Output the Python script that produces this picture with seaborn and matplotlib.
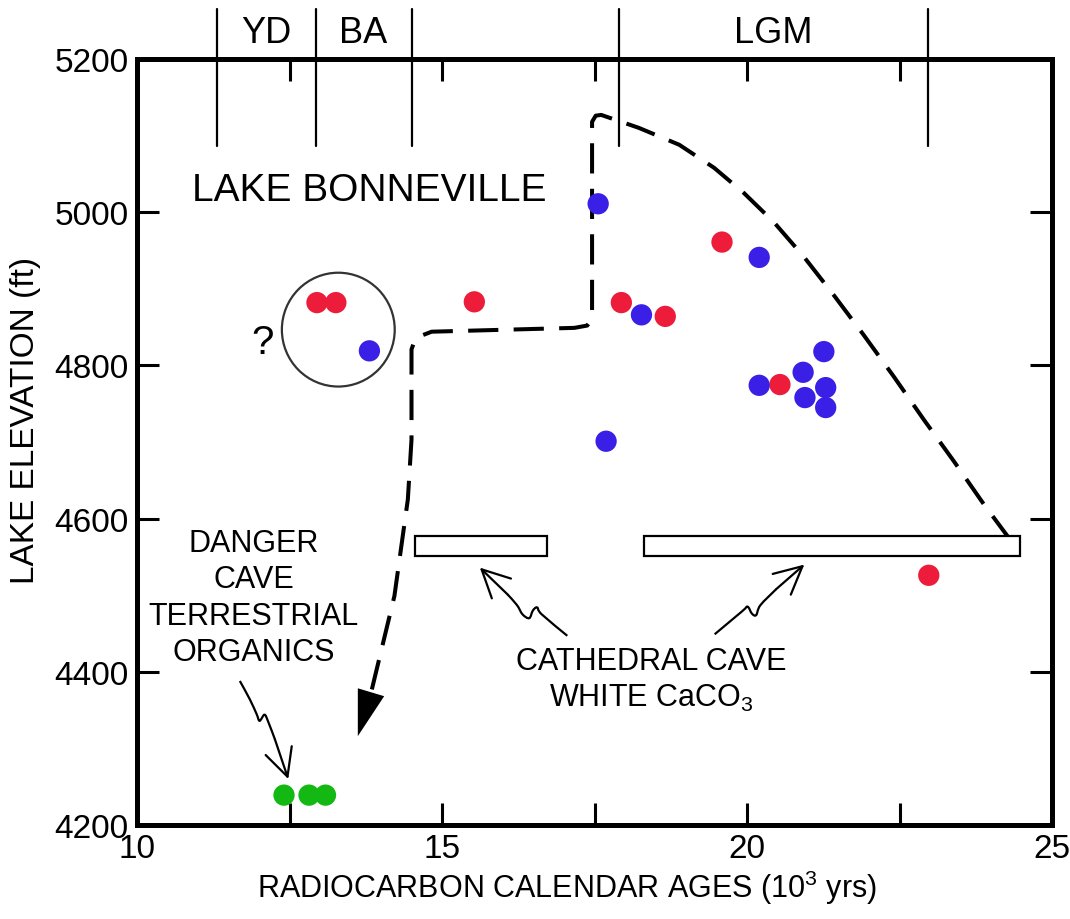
import numpy as np
import pandas as pd
import matplotlib
matplotlib.use("Agg")
import matplotlib.pyplot as plt
from matplotlib.patches import Ellipse, Rectangle, PathPatch
from matplotlib.path import Path
import seaborn as sns

# ---- data -------------------------------------------------------------
red_age = [12.95, 13.26, 15.53, 17.94, 18.66, 19.59, 20.54, 22.98]
red_elev = [4882, 4882, 4883, 4882, 4864, 4961, 4775, 4526]

blue_age = [13.81, 17.56, 18.27, 20.20, 17.69, 21.26, 20.92, 20.20, 21.29, 20.95, 21.29]
blue_elev = [4819, 5011, 4866, 4941, 4701, 4818, 4791, 4774, 4771, 4758, 4745]

green_age = [12.41, 12.82, 13.09]
green_elev = [4239, 4239, 4239]

# lake-level envelope (dashed), from the late end to the early highstand
lake_age = [13.85, 14.22, 14.44, 14.50, 14.50, 14.57, 14.83, 17.17, 17.38, 17.46,
            17.46, 17.52, 17.61, 18.23, 18.89, 19.46, 19.95, 20.44, 20.93, 21.42,
            21.91, 22.41, 22.90, 23.39, 23.88, 24.29]
lake_elev = [4377, 4499, 4625, 4703, 4821, 4836, 4844, 4849, 4852, 4860,
             5118, 5126, 5127, 5110, 5088, 5058, 5025, 4987, 4942, 4892,
             4840, 4785, 4729, 4675, 4619, 4575]
lake_arrow_tip = (13.62, 4316)

# Cathedral Cave white CaCO3 age ranges
cave_ranges = [(14.55, 16.72), (18.31, 24.47)]
cave_elev_range = (4551, 4577)

# climate periods
period_bounds = [11.31, 12.93, 14.50, 17.905, 22.96]
period_names = ["YD", "BA", "LGM"]
period_spans = [(11.31, 12.93), (12.93, 14.50), (17.905, 22.96)]

x_ticks = [10, 12.5, 15, 17.5, 20, 22.5, 25]
x_ticklabels = ["10", "", "15", "", "20", "", "25"]
y_ticks = [4200, 4400, 4600, 4800, 5000, 5200]

df = pd.DataFrame({
    "age": red_age + blue_age + green_age,
    "elev": red_elev + blue_elev + green_elev,
    "group": ["red"] * len(red_age) + ["blue"] * len(blue_age) + ["green"] * len(green_age),
})
palette = {"red": "#ED1C3A", "blue": "#3A1FE6", "green": "#13B813"}


def smooth_path(xs, ys):
    """Cubic Bezier path through the given vertices (Catmull-Rom tangents)."""
    p = np.column_stack([xs, ys]).astype(float)
    n = len(p)
    verts = [p[0]]
    codes = [Path.MOVETO]
    for i in range(n - 1):
        p_prev = p[i - 1] if i > 0 else p[i]
        p_next2 = p[i + 2] if i + 2 < n else p[i + 1]
        c1 = p[i] + (p[i + 1] - p_prev) / 6.0
        c2 = p[i + 1] - (p_next2 - p[i]) / 6.0
        verts += [c1, c2, p[i + 1]]
        codes += [Path.CURVE4] * 3
    return Path(np.array(verts), codes)


# ---- style ------------------------------------------------------------
sns.set_theme(style="white")
plt.rcParams["font.family"] = ["Liberation Sans", "DejaVu Sans"]
plt.rcParams["mathtext.fontset"] = "custom"
plt.rcParams["mathtext.rm"] = "Liberation Sans"
plt.rcParams["mathtext.it"] = "Liberation Sans"
plt.rcParams["mathtext.default"] = "regular"
plt.rcParams["text.color"] = "black"
plt.rcParams["axes.labelcolor"] = "black"

fig = plt.figure(figsize=(10.7, 9.2), dpi=100)
ax = fig.add_axes([137 / 1070, 94 / 920, 915 / 1070, 766 / 920])

sns.scatterplot(data=df, x="age", y="elev", hue="group", palette=palette,
                s=235, linewidth=0, legend=False, ax=ax, zorder=3)

ax.set_xlim(10, 25)
ax.set_ylim(4200, 5200)

# ---- envelope line with arrow -------------------------------------------
ax.plot(lake_age, lake_elev, color="black", lw=2.9,
        linestyle=(0, (7.5, 3.8)), dash_capstyle="butt",
        dash_joinstyle="round", zorder=2)
ax.annotate("", xy=lake_arrow_tip, xytext=(lake_age[0], lake_elev[0]),
            arrowprops=dict(arrowstyle="-|>,head_length=1.5,head_width=0.45",
                            mutation_scale=22, color="black", lw=0,
                            shrinkA=0, shrinkB=0), zorder=2)

# ---- CaCO3 boxes -----------------------------------------------------
for x0, x1 in cave_ranges:
    ax.add_patch(Rectangle((x0, cave_elev_range[0]), x1 - x0,
                           cave_elev_range[1] - cave_elev_range[0],
                           facecolor="white", edgecolor="black", lw=1.6, zorder=2.5))

# ---- uncertain cluster circle --------------------------------------------
ax.add_patch(Ellipse((13.30, 4846.7), 1.85, 148.6, facecolor="none",
                     edgecolor="#333333", lw=1.6, zorder=2))
ax.text(12.05, 4831, "?", fontsize=29, ha="center", va="center")

# ---- squiggly pointer arrows ---------------------------------------------
squiggles = [
    [(17.054, 4447), (16.635, 4475), (16.56, 4484), (16.49, 4480), (16.43, 4470),
     (16.32, 4475), (16.23, 4487), (16.075, 4501), (15.62, 4536)],
    [(19.47, 4449), (19.92, 4479), (20.01, 4485), (20.08, 4476), (20.15, 4474),
     (20.22, 4487), (20.48, 4508), (20.94, 4540)],
    [(11.686, 4388), (11.85, 4364), (11.96, 4345), (12.01, 4336), (12.09, 4344),
     (12.15, 4335), (12.26, 4312), (12.48, 4260)],
]
for pts in squiggles:
    xs, ys = zip(*pts)
    ax.add_patch(PathPatch(smooth_path(xs[:-1], ys[:-1]), facecolor="none",
                           edgecolor="black", lw=1.6, zorder=2))
    ax.annotate("", xy=pts[-1], xytext=pts[-2],
                arrowprops=dict(arrowstyle="->,head_length=1.1,head_width=0.55",
                                mutation_scale=18, color="black", lw=1.6,
                                shrinkA=0, shrinkB=0))

# ---- text annotations --------------------------------------------------
ax.text(10.90, 5029, "LAKE BONNEVILLE", fontsize=28, ha="left", va="center")
ax.text(11.91, 4497, "DANGER\nCAVE\nTERRESTRIAL\nORGANICS", fontsize=22,
        ha="center", va="center", multialignment="center", linespacing=1.28)
ax.text(18.43, 4414, "CATHEDRAL CAVE", fontsize=22, ha="center", va="center")
ax.text(18.43, 4366, "WHITE CaCO$_3$", fontsize=22, ha="center", va="center")

# ---- climate periods above the frame -------------------------------------
trans = ax.get_xaxis_transform()
for xb in period_bounds:
    ax.plot([xb, xb], [0.886, 1.065], transform=trans, color="black",
            lw=1.6, clip_on=False, zorder=4)
for name, (a, b) in zip(period_names, period_spans):
    ax.text((a + b) / 2, 1.035, name, transform=trans, fontsize=26,
            ha="center", va="center")

# ---- axes, ticks, labels ------------------------------------------------
ax.set_xticks(x_ticks)
ax.set_xticklabels(x_ticklabels)
ax.set_yticks(y_ticks)
ax.set_yticklabels([str(v) for v in y_ticks])
ax.tick_params(axis="both", which="major", direction="in", length=16, width=2.2,
               labelsize=24, pad=6, color="black", labelcolor="black",
               top=True, right=True, bottom=True, left=True)
for sp in ax.spines.values():
    sp.set_linewidth(3.6)
    sp.set_color("black")
    sp.set_visible(True)

ax.set_xlabel("RADIOCARBON CALENDAR AGES (10$^3$ yrs)", fontsize=22)
ax.set_ylabel("LAKE ELEVATION (ft)", fontsize=24)
ax.xaxis.set_label_coords(0.47, -0.081)
ax.yaxis.set_label_coords(-0.122, 0.53)
ax.xaxis.label.set_va("center")
ax.yaxis.label.set_va("center")

fig.savefig("out.png", dpi=100, facecolor="white")
